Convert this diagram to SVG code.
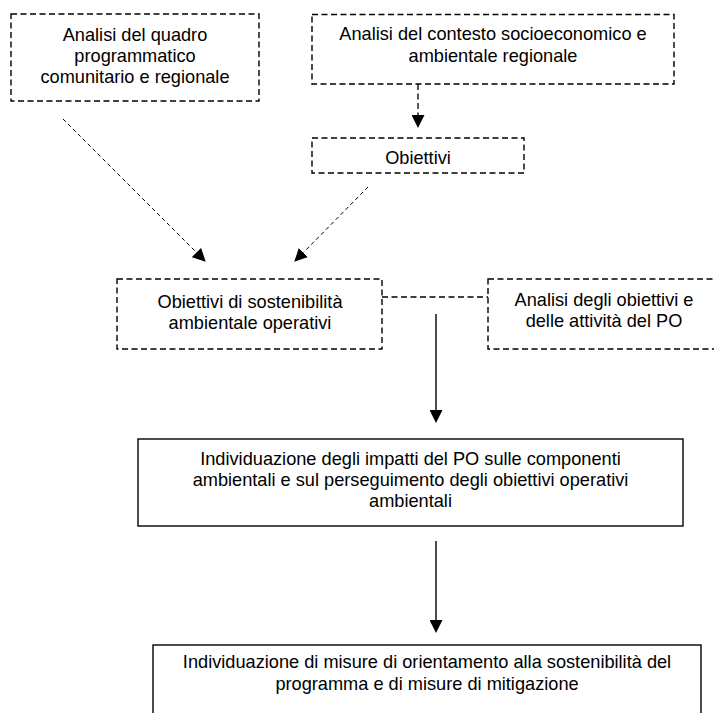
<svg xmlns="http://www.w3.org/2000/svg" width="714" height="713" viewBox="0 0 714 713">
<style>
  text { font-family: "Liberation Sans", Arial, sans-serif; font-size: 18.2px; fill: #000; text-anchor: middle; }
  .dbox { fill: none; stroke: #000; stroke-width: 1.4; stroke-dasharray: 6 3.5; }
  .sbox { fill: none; stroke: #000; stroke-width: 1.4; }
  .dline { fill: none; stroke: #000; stroke-width: 1.3; stroke-dasharray: 6 3.5; }
  .fline { fill: none; stroke: #000; stroke-width: 1; stroke-dasharray: 4 3; }
  .sline { fill: none; stroke: #000; stroke-width: 1.4; }
</style>
<defs>
  <marker id="ah" viewBox="0 0 12 12" refX="0" refY="6" markerWidth="13" markerHeight="13" markerUnits="userSpaceOnUse" orient="auto">
    <path d="M0,0 L12,6 L0,12 z" fill="#000"/>
  </marker>
</defs>
<rect width="714" height="713" fill="#fff"/>

<g id="n1">
  <rect class="dbox" x="11" y="14" width="248" height="87"/>
  <text x="135" y="40.7">Analisi del quadro</text>
  <text x="135" y="61.7">programmatico</text>
  <text x="135" y="82.7">comunitario e regionale</text>
</g>
<g id="n2">
  <rect class="dbox" x="312" y="14.5" width="362" height="69.5"/>
  <text x="493" y="40">Analisi del contesto socioeconomico e</text>
  <text x="493" y="61.5">ambientale regionale</text>
</g>
<g id="n3">
  <rect class="dbox" x="312" y="138" width="212" height="35"/>
  <text x="418" y="164">Obiettivi</text>
</g>
<g id="n4">
  <rect class="dbox" x="117" y="279" width="265" height="70"/>
  <text x="250" y="308">Obiettivi di sostenibilità</text>
  <text x="250" y="329">ambientale operativi</text>
</g>
<g id="n5">
  <rect class="dbox" x="488" y="279" width="232" height="70"/>
  <text x="604" y="305.5">Analisi degli obiettivi e</text>
  <text x="604" y="327">delle attività del PO</text>
</g>
<g id="n6">
  <rect class="sbox" x="138" y="439" width="545" height="87"/>
  <text x="410.5" y="465">Individuazione degli impatti del PO sulle componenti</text>
  <text x="410.5" y="486">ambientali e sul perseguimento degli obiettivi operativi</text>
  <text x="410.5" y="507">ambientali</text>
</g>
<g id="n7">
  <rect class="sbox" x="153" y="645" width="548" height="80"/>
  <text x="427" y="668">Individuazione di misure di orientamento alla sostenibilità del</text>
  <text x="427" y="689.5">programma e di misure di mitigazione</text>
</g>

<g id="connectors">
  <line class="dline" x1="418" y1="84" x2="418" y2="115" marker-end="url(#ah)"/>
  <line class="fline" x1="63" y1="119" x2="196.5" y2="252.5" marker-end="url(#ah)"/>
  <line class="fline" x1="368" y1="187" x2="303.4" y2="252.5" marker-end="url(#ah)"/>
  <line class="dline" x1="382" y1="297" x2="488" y2="297"/>
  <line class="sline" x1="436" y1="314" x2="436" y2="410" marker-end="url(#ah)"/>
  <line class="sline" x1="436" y1="541" x2="436" y2="620" marker-end="url(#ah)"/>
</g>
</svg>
